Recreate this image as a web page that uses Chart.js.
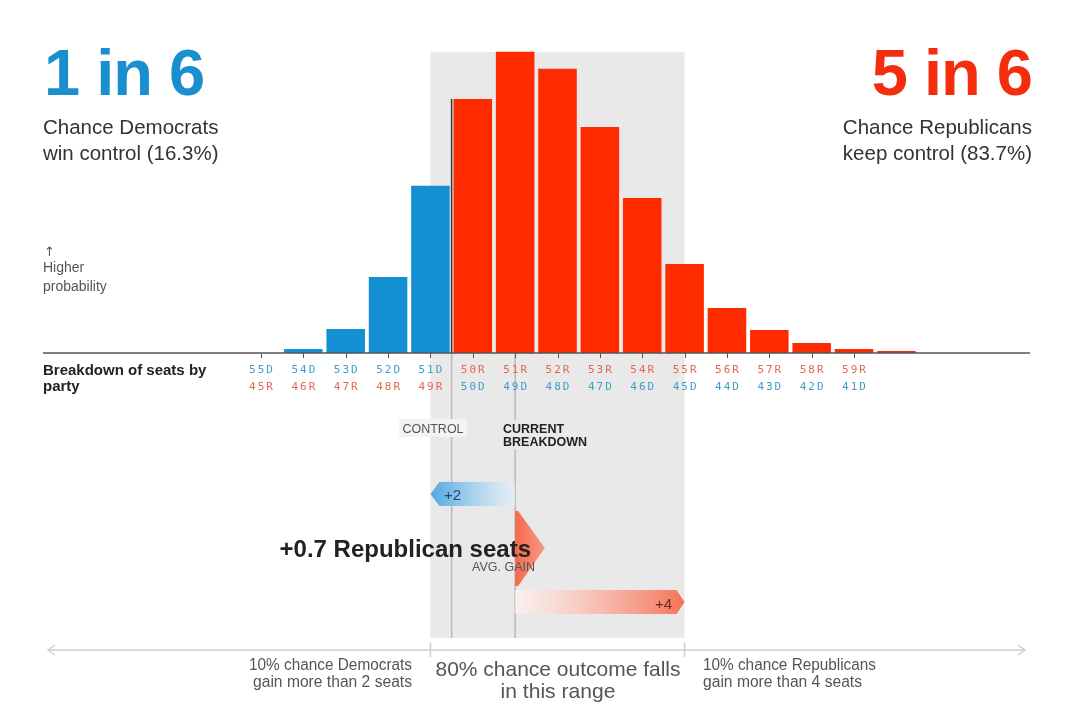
<!DOCTYPE html>
<html><head><meta charset="utf-8">
<script src="https://cdn.jsdelivr.net/npm/chart.js@4.4.0/dist/chart.umd.min.js"></script>
<style>html,body{margin:0;padding:0;background:#fff;}canvas{display:block;}</style>
</head><body>
<canvas id="c" width="1080" height="715"></canvas>
<script>
// ---- data ----
const republicanSeats = [45, 46, 47, 48, 49, 50, 51, 52, 53, 54, 55, 56, 57, 58, 59, 60];
const probability     = [0, 0.24, 1.44, 4.57, 10.04, 15.26, 18.09, 17.07, 13.58, 9.31, 5.35, 2.70, 1.38, 0.60, 0.24, 0.12];
const tickSeats       = [45, 46, 47, 48, 49, 50, 51, 52, 53, 54, 55, 56, 57, 58, 59];
const topTickLabels   = ['55D','54D','53D','52D','51D','50R','51R','52R','53R','54R','55R','56R','57R','58R','59R'];
const bottomTickLabels= ['45R','46R','47R','48R','49R','50D','49D','48D','47D','46D','45D','44D','43D','42D','41D'];
const controlSeat = 49.5;   // boundary between D and R control
const currentSeat = 51;     // current breakdown
const rangeLow = 49, rangeHigh = 55; // 80% range
const demChance = 16.3, repChance = 83.7;

const BLUE = '#1490d2', RED = '#ff2b00';
const BAND = '#e9e9e9';

function txt(c, s, x, y, font, color, align, ls) {
  c.save(); c.font = font; c.fillStyle = color; c.textAlign = align || 'left';
  c.textBaseline = 'alphabetic'; c.letterSpacing = ls || '0px'; c.fillText(s, x, y); c.restore();
}
function txtW(c, s, x, y, font, color, align, w) {
  c.save(); c.font = font; const m = c.measureText(s).width; const k = w / m;
  c.translate(x, y); c.scale(k, 1); c.textAlign = align; c.fillStyle = color; c.fillText(s, 0, 0); c.restore();
}

const bandPlugin = {
  id: 'band',
  beforeDatasetsDraw(chart) {
    const c = chart.ctx, xs = chart.scales.x, ys = chart.scales.y;
    const x0 = xs.getPixelForValue(rangeLow), x1 = xs.getPixelForValue(rangeHigh);
    const top = ys.getPixelForValue(Math.max(...probability));
    c.save(); c.fillStyle = BAND; c.fillRect(x0, top, x1 - x0, 638 - top); c.restore();
  }
};

const overlayPlugin = {
  id: 'overlay',
  afterDatasetsDraw(chart) {
    const c = chart.ctx, xs = chart.scales.x, ys = chart.scales.y;
    const base = ys.getPixelForValue(0);
    const L = chart.chartArea.left, R = chart.chartArea.right;
    c.save();
    const xc = xs.getPixelForValue(controlSeat);
    const xcur = xs.getPixelForValue(currentSeat);
    const idx50 = republicanSeats.indexOf(50);
    c.strokeStyle = '#333'; c.lineWidth = 1.5;
    c.beginPath(); c.moveTo(xc, ys.getPixelForValue(probability[idx50])); c.lineTo(xc, base); c.stroke();
    c.strokeStyle = '#b9b9b9'; c.lineWidth = 1.5;
    c.beginPath(); c.moveTo(xc, base); c.lineTo(xc, 638); c.moveTo(xcur, base); c.lineTo(xcur, 638); c.stroke();
    c.strokeStyle = '#555'; c.lineWidth = 1.5;
    c.beginPath(); c.moveTo(L, base); c.lineTo(R, base); c.stroke();
    c.lineWidth = 1;
    c.beginPath();
    tickSeats.forEach(s => { const x = Math.round(xs.getPixelForValue(s)) + 0.5; c.moveTo(x, base); c.lineTo(x, base + 5); });
    c.stroke();
    const font = '11px "DejaVu Sans Mono"';
    tickSeats.forEach((s, i) => {
      const x = xs.getPixelForValue(s) + 1;
      const t = topTickLabels[i], b = bottomTickLabels[i];
      txt(c, t, x, 373, font, t.endsWith('D') ? '#3f9dc9' : '#e5674f', 'center', '2px');
      txt(c, b, x, 390, font, b.endsWith('D') ? '#3f9dc9' : '#e5674f', 'center', '2px');
    });
    c.fillStyle = '#f3f3f3'; c.fillRect(399, 419, 68, 18);
    txt(c, 'CONTROL', 433, 433, '12.5px "Liberation Sans"', '#555', 'center');
    c.fillStyle = BAND; c.fillRect(501, 420, 90, 29);
    txt(c, 'CURRENT', 503, 433, 'bold 12.5px "Liberation Sans"', '#222', 'left');
    txt(c, 'BREAKDOWN', 503, 446, 'bold 12.5px "Liberation Sans"', '#222', 'left');

    // +2 arrow (toward D)
    const xl = xs.getPixelForValue(currentSeat - 2);
    let g = c.createLinearGradient(xl, 0, xcur, 0);
    g.addColorStop(0, '#4fa7e2'); g.addColorStop(1, 'rgba(225,240,252,0.6)');
    c.fillStyle = g;
    c.beginPath(); c.moveTo(xl, 494); c.lineTo(xl + 9, 482); c.lineTo(xcur, 482); c.lineTo(xcur, 506); c.lineTo(xl + 9, 506); c.closePath(); c.fill();
    txt(c, '+2', 444, 500, '15px "Liberation Sans"', '#1d4668', 'left');

    // avg gain arrow
    const xg = xs.getPixelForValue(currentSeat + 0.7);
    g = c.createLinearGradient(xcur, 0, xg, 0);
    g.addColorStop(0, '#f4694d'); g.addColorStop(1, '#f89a85');
    c.fillStyle = g;
    c.beginPath(); c.moveTo(xcur, 511); c.lineTo(xcur + 3, 511); c.lineTo(xg, 548); c.lineTo(xcur + 3, 586); c.lineTo(xcur, 586); c.closePath(); c.fill();
    txt(c, '+0.7 Republican seats', 531, 557, 'bold 24px "Liberation Sans"', '#222', 'right');
    txt(c, 'AVG. GAIN', 472, 571, '12.5px "Liberation Sans"', '#555', 'left');

    // +4 arrow (toward R)
    const xr = xs.getPixelForValue(currentSeat + 4);
    g = c.createLinearGradient(xcur, 0, xr, 0);
    g.addColorStop(0, 'rgba(255,245,242,0.7)'); g.addColorStop(1, '#f47459');
    c.fillStyle = g;
    c.beginPath(); c.moveTo(xcur, 590); c.lineTo(xr - 8, 590); c.lineTo(xr, 602); c.lineTo(xr - 8, 614); c.lineTo(xcur, 614); c.closePath(); c.fill();
    txt(c, '+4', 672, 609, '15px "Liberation Sans"', '#6e2a1c', 'right');

    // bottom range line
    const x0 = xs.getPixelForValue(rangeLow), x1 = xs.getPixelForValue(rangeHigh);
    c.strokeStyle = '#cfcfcf'; c.lineWidth = 1.5;
    c.beginPath();
    c.moveTo(48, 650); c.lineTo(1025, 650);
    c.moveTo(55, 645); c.lineTo(48, 650); c.lineTo(55, 655);
    c.moveTo(1018, 645); c.lineTo(1025, 650); c.lineTo(1018, 655);
    c.moveTo(x0, 642); c.lineTo(x0, 657);
    c.moveTo(x1, 642); c.lineTo(x1, 657);
    c.stroke();
    const sf = '16px "Liberation Sans"';
    txtW(c, '10% chance Democrats', 412, 670, sf, '#555', 'right', 163);
    txtW(c, 'gain more than 2 seats', 412, 687, sf, '#555', 'right', 159);
    txtW(c, '10% chance Republicans', 703, 670, sf, '#555', 'left', 173);
    txtW(c, 'gain more than 4 seats', 703, 687, sf, '#555', 'left', 159);
    const bf = '21px "Liberation Sans"';
    txtW(c, '80% chance outcome falls', 558, 676, bf, '#555', 'center', 245);
    txtW(c, 'in this range', 558, 698, bf, '#555', 'center', 115);

    txt(c, '\u2191', 44, 256, '13px "DejaVu Sans"', '#555', 'left');
    txt(c, 'Higher', 43, 272, '14px "Liberation Sans"', '#555', 'left');
    txt(c, 'probability', 43, 291, '14px "Liberation Sans"', '#555', 'left');
    txt(c, 'Breakdown of seats by', 43, 375, 'bold 15px "Liberation Sans"', '#222', 'left');
    txt(c, 'party', 43, 391, 'bold 15px "Liberation Sans"', '#222', 'left');

    txt(c, '1 in 6', 44, 95, 'bold 65px "Liberation Sans"', '#1a8fd0', 'left', '-1px');
    txt(c, 'Chance Democrats', 43, 134, '20.5px "Liberation Sans"', '#333', 'left');
    txt(c, 'win control (' + demChance + '%)', 43, 160, '20.5px "Liberation Sans"', '#333', 'left');
    txt(c, '5 in 6', 1032, 95, 'bold 65px "Liberation Sans"', '#f42d0e', 'right', '-1px');
    txt(c, 'Chance Republicans', 1032, 134, '20.5px "Liberation Sans"', '#333', 'right');
    txt(c, 'keep control (' + repChance + '%)', 1032, 160, '20.5px "Liberation Sans"', '#333', 'right');
    c.restore();
  }
};

new Chart(document.getElementById('c').getContext('2d'), {
  type: 'bar',
  data: {
    datasets: [{
      data: republicanSeats.map((s, i) => ({ x: s, y: probability[i] })),
      backgroundColor: republicanSeats.map(s => s < 50 ? BLUE : RED),
      borderWidth: 0,
      barPercentage: 0.91,
      categoryPercentage: 1
    }]
  },
  options: {
    responsive: false,
    animation: false,
    devicePixelRatio: 1,
    layout: { padding: { left: 43, right: 50, top: 20, bottom: 362 } },
    plugins: { legend: { display: false }, tooltip: { enabled: false } },
    scales: {
      x: { type: 'linear', min: 39.854, max: 63.154, offset: false, display: false },
      y: { min: 0, max: 20, display: false }
    }
  },
  plugins: [bandPlugin, overlayPlugin]
});
</script>
</body></html>
